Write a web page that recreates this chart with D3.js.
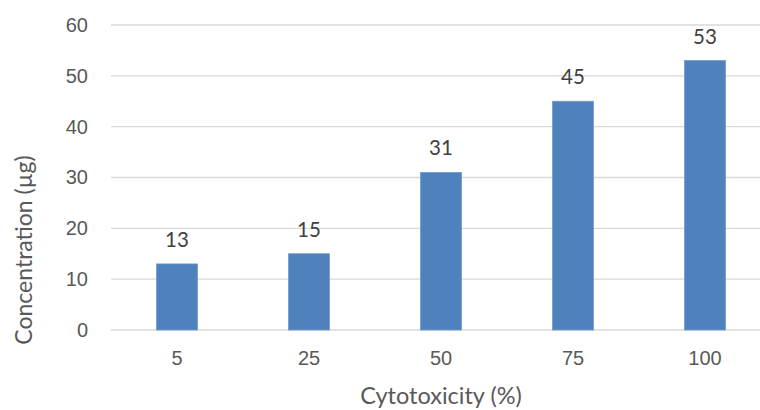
<!DOCTYPE html>
<html>
<head>
<meta charset="utf-8">
<script src="https://cdn.jsdelivr.net/npm/d3@7"></script>
<style>
  html, body { margin: 0; padding: 0; background: #fff; }
  svg { display: block; font-family: Lato, "Open Sans", sans-serif; }
</style>
</head>
<body>
<svg id="chart" width="760" height="410"></svg>
<script>
// Concentration required per cytotoxicity level
const categories = ["5", "25", "50", "75", "100"];
const values = [13, 15, 31, 45, 53];
const yTicks = [0, 10, 20, 30, 40, 50, 60];

const svg = d3.select("#chart");
const margin = { left: 111, right: -11, top: 25, bottom: 80 };
const width = 760 - margin.left - margin.right;
const height = 410 - margin.top - margin.bottom;

const x = d3.scaleBand().domain(categories).range([0, width]).paddingInner(0.69).paddingOuter(0.345);
const y = d3.scaleLinear().domain([0, 60]).range([height, 0]);

const g = svg.append("g").attr("transform", `translate(${margin.left},${margin.top})`);

// horizontal gridlines
g.append("g")
  .selectAll("line")
  .data(yTicks)
  .join("line")
  .attr("x1", 0)
  .attr("x2", width)
  .attr("y1", d => y(d))
  .attr("y2", d => y(d))
  .attr("stroke", "#d9d9d9")
  .attr("stroke-width", 1.3);

// y axis labels
const yAxis = g.append("g")
  .call(d3.axisLeft(y).tickValues(yTicks).tickSize(0).tickPadding(23));
yAxis.select(".domain").remove();
yAxis.selectAll("text")
  .attr("fill", "#595959")
  .style("font-size", "20px");

// x axis labels
const xAxis = g.append("g")
  .attr("transform", `translate(0,${height})`)
  .call(d3.axisBottom(x).tickSize(0).tickPadding(21));
xAxis.select(".domain").remove();
xAxis.selectAll("text")
  .attr("fill", "#595959")
  .style("font-size", "20px");

// bars
g.append("g")
  .selectAll("rect")
  .data(values)
  .join("rect")
  .attr("x", (d, i) => x(categories[i]))
  .attr("width", x.bandwidth())
  .attr("y", d => y(d))
  .attr("height", d => y(0) - y(d))
  .attr("fill", "#4f81bd")
  .attr("stroke", "#6f9bd1")
  .attr("stroke-width", 0.8);

// value labels
g.append("g")
  .selectAll("text")
  .data(values)
  .join("text")
  .attr("x", (d, i) => x(categories[i]) + x.bandwidth() / 2)
  .attr("y", d => y(d) - 17)
  .attr("text-anchor", "middle")
  .attr("fill", "#404040")
  .style("font-size", "20.5px")
  .text(d => d);

// axis titles
svg.append("text")
  .attr("x", 441)
  .attr("y", 404)
  .attr("text-anchor", "middle")
  .attr("fill", "#595959")
  .style("font-size", "23.5px")
  .text("Cytotoxicity (%)");

svg.append("text")
  .attr("transform", "translate(32,250) rotate(-90)")
  .attr("text-anchor", "middle")
  .attr("fill", "#595959")
  .style("font-size", "23px")
  .text("Concentration (µg)");
</script>
</body>
</html>
